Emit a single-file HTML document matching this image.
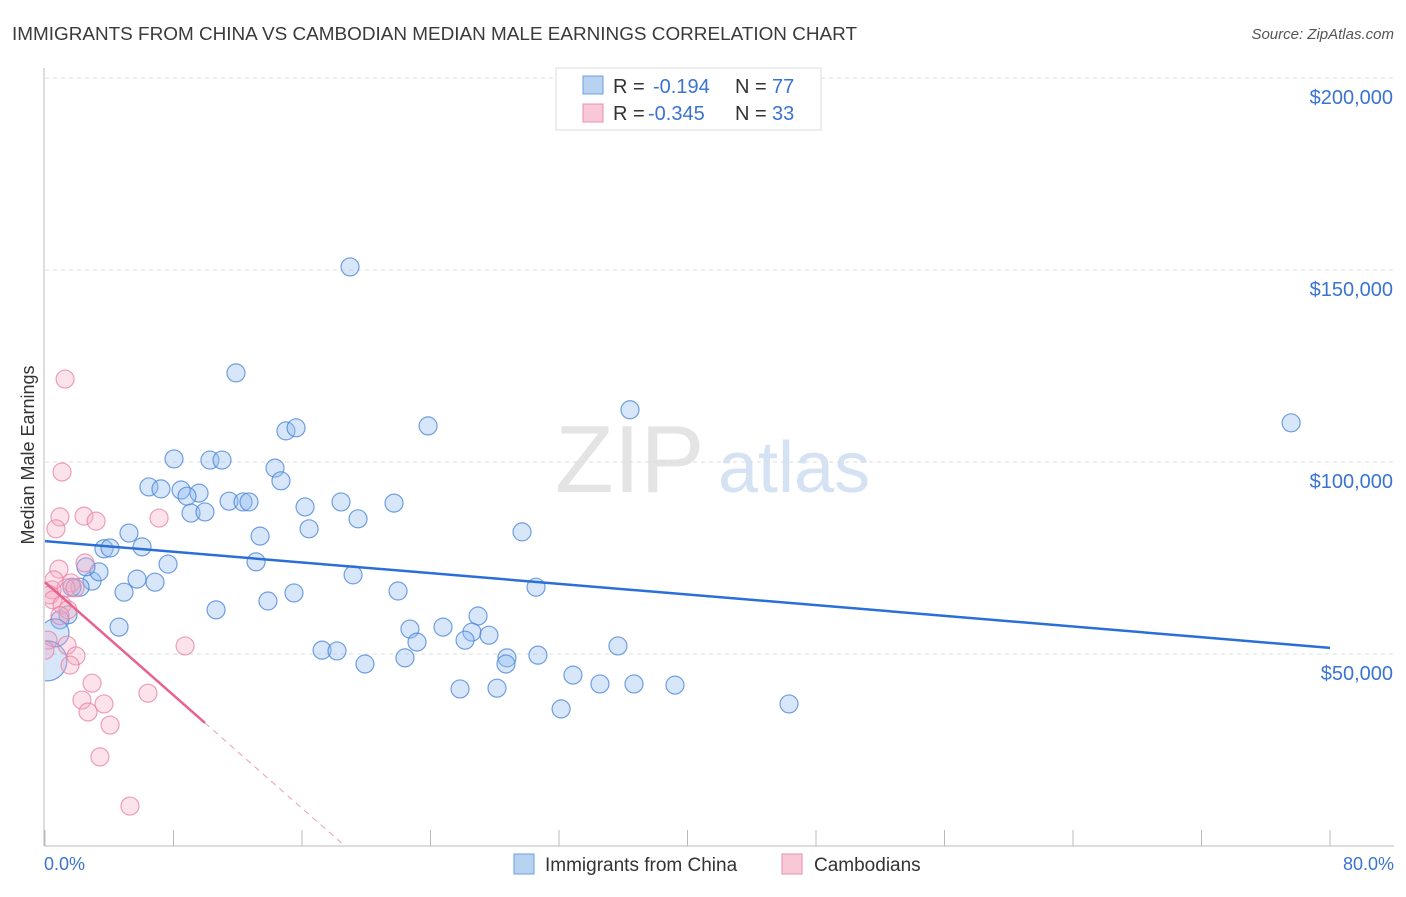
<!DOCTYPE html>
<html><head><meta charset="utf-8"><style>
body{margin:0;background:#fff;font-family:"Liberation Sans",sans-serif;}
svg text{font-family:"Liberation Sans",sans-serif;}
</style></head><body>
<svg id="chart" width="1406" height="892">
<defs><clipPath id="plotclip"><rect x="45" y="60" width="1360" height="786"/></clipPath></defs>
<text x="12" y="40" font-size="18" fill="#3a3a3a" textLength="845" lengthAdjust="spacingAndGlyphs">IMMIGRANTS FROM CHINA VS CAMBODIAN MEDIAN MALE EARNINGS CORRELATION CHART</text>
<text x="1394" y="39" font-size="15" fill="#555" font-style="italic" text-anchor="end">Source: ZipAtlas.com</text>
<text x="555" y="492" font-size="96" fill="#e4e4e4" font-family="Liberation Serif">ZIP</text>
<text x="718" y="492" font-size="72" fill="#d4e2f4">atlas</text>
<g id="grid"></g>
<line x1="44" y1="68" x2="44" y2="846" stroke="#bbb"/>
<line x1="44" y1="846" x2="1394" y2="846" stroke="#bbb"/>
<text transform="translate(34,455) rotate(-90)" font-size="18" fill="#333" text-anchor="middle">Median Male Earnings</text>
<text x="44" y="870" font-size="18" fill="#3a74d0">0.0%</text>
<text x="1394" y="870" font-size="18" fill="#3a74d0" text-anchor="end">80.0%</text>
<g id="points" clip-path="url(#plotclip)"></g>
<g id="lines"></g>
<g>
<rect x="556" y="68" width="265" height="62" fill="#fff" stroke="#ddd"/>
<rect x="583" y="76" width="20" height="18" fill="#b8d2f2" stroke="#6c9fe0"/>
<rect x="583" y="104" width="20" height="18" fill="#f8c8d6" stroke="#e890ae"/>
<text x="613" y="93" font-size="20" fill="#333">R = </text><text x="653" y="93" font-size="20" fill="#3a74d0">-0.194</text>
<text x="735" y="93" font-size="20" fill="#333">N = </text><text x="772" y="93" font-size="20" fill="#3a74d0">77</text>
<text x="613" y="120" font-size="20" fill="#333">R = </text><text x="648" y="120" font-size="20" fill="#3a74d0">-0.345</text>
<text x="735" y="120" font-size="20" fill="#333">N = </text><text x="772" y="120" font-size="20" fill="#3a74d0">33</text>
</g>
<g>
<rect x="514" y="854" width="20" height="20" fill="#b8d2f2" stroke="#6c9fe0"/>
<text x="545" y="871" font-size="19" fill="#333">Immigrants from China</text>
<rect x="782" y="854" width="20" height="20" fill="#f8c8d6" stroke="#e890ae"/>
<text x="814" y="871" font-size="19" fill="#333">Cambodians</text>
</g>
</svg>
<script>
const yTicks=[50000,100000,150000,200000];
const yTickLabels=["$50,000","$100,000","$150,000","$200,000"];
const xTicks=[0,8,16,24,32,40,48,56,64,72,80];
const chinaX=[18.99,11.89,36.42,77.58,23.85,15.00,15.63,8.03,10.27,11.02,14.32,14.69,6.47,7.22,8.47,9.59,8.84,11.46,12.33,12.70,18.43,21.73,16.19,9.09,9.96,19.49,16.44,29.70,5.23,13.39,6.04,3.67,4.05,13.14,7.66,19.18,5.73,6.85,2.93,2.18,30.57,4.92,21.98,15.50,10.65,13.88,26.96,1.43,0.93,4.61,22.72,24.78,26.58,27.64,26.15,23.16,35.67,17.25,18.18,30.69,22.41,28.76,28.70,19.92,32.87,34.55,36.67,39.22,25.84,28.14,46.32,32.13,0.62,0.12,3.36,2.55,1.68];
const chinaY=[150.8,123.2,113.6,110.2,109.4,108.1,108.9,100.8,100.5,100.5,98.4,95.1,93.5,93.0,92.7,91.9,91.1,89.8,89.6,89.6,89.6,89.3,88.3,86.7,87.0,85.2,82.6,81.8,81.5,80.7,77.9,77.4,77.6,74.0,73.4,70.6,69.5,68.7,69.0,67.4,67.4,66.1,66.4,65.9,61.5,63.8,59.9,60.2,58.9,57.0,56.5,57.0,55.7,54.9,53.6,53.1,52.1,51.0,50.8,49.7,49.0,49.0,47.4,47.4,44.5,42.2,42.2,41.9,40.9,41.1,37.0,35.7,55.5,48.2,71.4,72.7,67.4];
const chinaR=chinaX.map((v,i)=>i===72?14:(i===73?20:9));
const cambX=[1.25,1.06,2.43,0.93,3.18,7.10,0.68,2.49,0.87,1.62,1.31,0.44,0.31,0.50,1.06,1.43,8.72,1.37,1.93,1.56,0.19,2.93,6.41,2.30,3.67,2.68,4.05,3.42,5.29,0.56,1.87,0.93,0.0];
const cambY=[121.6,97.4,85.9,85.7,84.6,85.4,82.6,73.7,72.1,68.5,67.2,66.7,65.4,64.1,62.8,61.5,52.1,52.3,49.5,47.1,53.6,42.4,39.8,38.0,37.0,34.9,31.5,23.2,10.4,69.3,67.2,60.0,51.0];
const chinaTrend=[79.4,51.6];
const cambTrend=[68.7,-3.68];
const NS='http://www.w3.org/2000/svg';
const X=p=>45+p*(1285/80);
const Y=v=>846-v*(192/50000);
function mk(tag,attrs,parent){const e=document.createElementNS(NS,tag);for(const k in attrs)e.setAttribute(k,attrs[k]);parent.appendChild(e);return e;}
const grid=document.getElementById('grid');
yTicks.forEach((t,i)=>{
 const l=mk('line',{x1:45,x2:1394,y1:Y(t),y2:Y(t),stroke:'#ddd','stroke-dasharray':'4,4'},grid);
 
 
 const tx=mk('text',{x:1393,y:Y(t)+26,'font-size':20,fill:'#3a74d0','text-anchor':'end'},grid);
 tx.textContent=yTickLabels[i];
 
 
});
mk('line',{x1:45,x2:1394,y1:78,y2:78,stroke:'#ddd','stroke-dasharray':'4,4'},grid);
xTicks.forEach(t=>{
 const l=mk('line',{x1:X(t),x2:X(t),y1:830,y2:846,stroke:'#bbb'},grid);
 
 
});
const pts=document.getElementById('points');
chinaX.forEach((x,i)=>{
 const c=mk('circle',{cx:X(x),cy:Y(chinaY[i]*1000),r:chinaR[i],fill:'rgba(150,190,240,0.38)',stroke:'rgba(70,130,215,0.75)','stroke-width':1.2},pts);
 
 
});
cambX.forEach((x,i)=>{
 const c=mk('circle',{cx:X(x),cy:Y(cambY[i]*1000),r:9,fill:'rgba(245,170,195,0.33)',stroke:'rgba(230,130,165,0.75)','stroke-width':1.2},pts);
 
 
});
const ln=document.getElementById('lines');
const bl=mk('line',{x1:X(0),y1:Y(chinaTrend[0]*1000),x2:X(80),y2:Y(chinaTrend[1]*1000),stroke:'#2a6fd6','stroke-width':2.5},ln);


const pEnd=9.96, z=-cambTrend[0]/cambTrend[1];
const pl=mk('line',{x1:X(0),y1:Y(cambTrend[0]*1000),x2:X(pEnd),y2:Y((cambTrend[0]+cambTrend[1]*pEnd)*1000),stroke:'#e8628e','stroke-width':2.5},ln);


const pd=mk('line',{x1:X(pEnd),y1:Y((cambTrend[0]+cambTrend[1]*pEnd)*1000),x2:X(z),y2:Y(0),stroke:'#e8a0b8','stroke-width':1,'stroke-dasharray':'6,5'},ln);


</script>
</body></html>
